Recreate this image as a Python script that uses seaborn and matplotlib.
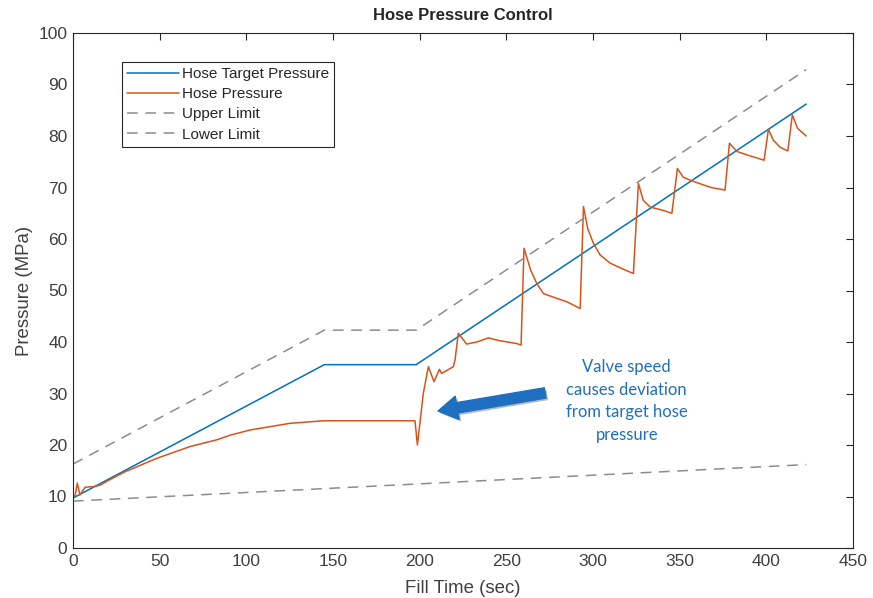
import numpy as np
import pandas as pd
import matplotlib
matplotlib.use("Agg")
import matplotlib.pyplot as plt
import matplotlib.patheffects as pe
import seaborn as sns

# target / limits (piecewise linear)
t_target = [0, 145, 198, 423]
p_target = [9.7, 35.6, 35.6, 86.2]
p_upper = [16.3, 42.3, 42.3, 92.9]
t_lower = [0, 423]
p_lower = [9.1, 16.2]

# measured hose pressure
t_hose = [0, 1.2, 2.5, 4, 7, 11.7, 15.6, 21.4, 30, 48.3, 67.5, 82.9, 90.6, 102, 125,
          144.4, 197.3, 198.7, 202.1, 205, 208.3, 211.4, 212.7, 219.4, 220.4, 222.3,
          227.1, 233, 239.7, 245.4, 256, 258.5, 260.2, 264, 267.5, 271.4, 277.2, 285,
          292.6, 294.5, 297, 300.2, 304.1, 310, 317, 323.3, 326.2, 329, 333, 340, 345.5,
          348.7, 352, 357, 368, 376.2, 378.7, 383, 390, 398.7, 401.2, 404, 408, 412.4,
          415, 418, 423]
p_hose = [10.0, 10.2, 12.6, 10.3, 11.8, 11.9, 12.2, 13.3, 14.8, 17.4, 19.7, 21.0, 21.9,
          22.9, 24.2, 24.7, 24.7, 20.0, 30.0, 35.2, 32.3, 34.7, 33.9, 35.2, 36.5, 41.7,
          39.6, 40.0, 40.8, 40.3, 39.7, 39.4, 58.2, 54.0, 51.4, 49.4, 48.7, 47.8, 46.5,
          66.3, 62.0, 59.2, 56.9, 55.3, 54.2, 53.3, 70.8, 67.5, 66.2, 65.6, 65.0, 73.7,
          72.0, 71.3, 70.0, 69.5, 78.6, 77.0, 76.2, 75.3, 81.3, 79.2, 77.8, 77.1, 84.1,
          81.5, 80.0]

blue = "#0072BD"
orange = "#D95319"
gray = "#8c8c8c"

sns.set_style("white")
plt.rcParams['font.family'] = ['Liberation Sans', 'DejaVu Sans']

fig = plt.figure(figsize=(8.73, 5.98), dpi=100)
ax = fig.add_axes([73 / 873, 50 / 598, 780 / 873, 515 / 598])

df_t = pd.DataFrame({'t': t_target, 'p': p_target, 'u': p_upper})
df_h = pd.DataFrame({'t': t_hose, 'p': p_hose})
df_l = pd.DataFrame({'t': t_lower, 'p': p_lower})

sns.lineplot(data=df_t, x='t', y='p', ax=ax, color=blue, lw=1.1, sort=False,
             estimator=None, label='Hose Target Pressure')
sns.lineplot(data=df_h, x='t', y='p', ax=ax, color=orange, lw=1.1, sort=False,
             estimator=None, label='Hose Pressure')
sns.lineplot(data=df_t, x='t', y='u', ax=ax, color=gray, lw=1.1, sort=False,
             estimator=None, label='Upper Limit', linestyle=(0, (7, 5)))
sns.lineplot(data=df_l, x='t', y='p', ax=ax, color=gray, lw=1.1, sort=False,
             estimator=None, label='Lower Limit', linestyle=(0, (7, 5)))

ax.set_xlim(0, 450)
ax.set_ylim(0, 100)
ax.set_xticks(np.arange(0, 451, 50))
ax.set_yticks(np.arange(0, 101, 10))
ax.tick_params(direction='in', length=5, width=0.8, top=True, right=True,
               labelsize=12.5, colors='#262626', labelcolor='#404040', pad=4)
for s in ax.spines.values():
    s.set_color('#262626')
    s.set_linewidth(0.8)

ax.set_xlabel('Fill Time (sec)', fontsize=13.4, color='#404040', labelpad=8)
ax.set_ylabel('Pressure (MPa)', fontsize=13.4, color='#404040', labelpad=4)
ax.set_title('Hose Pressure Control', fontsize=12, fontweight='bold', pad=9)

leg = ax.legend(loc='upper left', bbox_to_anchor=(0.0624, 0.944), borderaxespad=0,
                fancybox=False, edgecolor='#262626', framealpha=1, fontsize=11,
                handlelength=3.4, handletextpad=0.2, labelspacing=0.4,
                borderpad=0.35)
leg.get_frame().set_linewidth(0.8)

# annotation arrow and text
ax.annotate('', xy=(209, 26.5), xytext=(274, 30.2),
            arrowprops=dict(arrowstyle='simple,head_length=1.4,head_width=1.7,tail_width=0.75',
                            color='#1F6FC0', mutation_scale=10,
                            path_effects=[pe.SimplePatchShadow(offset=(1.5, -1.5), alpha=0.3),
                                          pe.Normal()]))
ax.text(319.5, 28.5, 'Valve speed\ncauses deviation\nfrom target hose\npressure',
        ha='center', va='center', fontsize=12, color='#1F6FC0', family=['Lato', 'DejaVu Sans'],
        linespacing=1.5)

fig.savefig('out.png', dpi=100)
